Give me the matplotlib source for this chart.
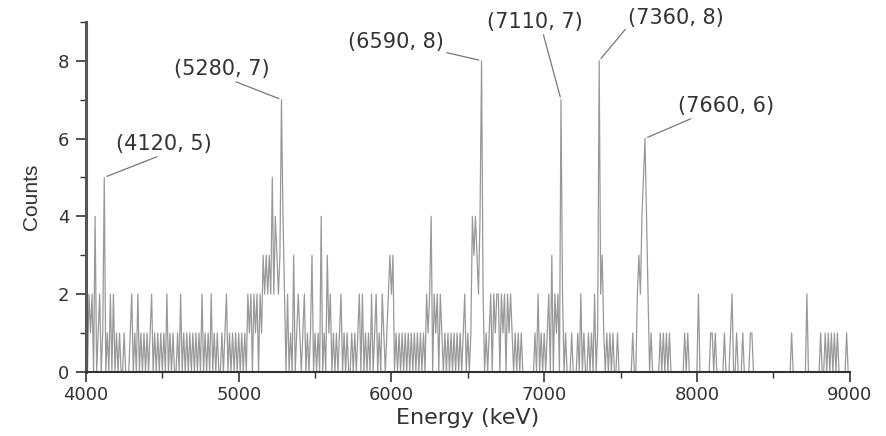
import numpy as np
import matplotlib
matplotlib.use("Agg")
import matplotlib.pyplot as plt
from matplotlib.ticker import MultipleLocator

# counts per 10 keV bin, one row per 100 keV (4000 ... 8990), plus the 9000 bin
counts_rows = [
    [2, 0, 2, 1, 2, 0, 4, 0, 1, 2],  # 4000
    [0, 1, 5, 0, 1, 0, 2, 0, 2, 0],  # 4100
    [1, 0, 1, 0, 0, 1, 0, 0, 0, 1],  # 4200
    [2, 0, 1, 0, 2, 0, 1, 0, 1, 0],  # 4300
    [1, 0, 1, 2, 0, 1, 0, 1, 0, 1],  # 4400
    [0, 1, 0, 2, 0, 1, 0, 1, 0, 0],  # 4500
    [1, 0, 2, 0, 1, 0, 1, 0, 1, 0],  # 4600
    [1, 0, 1, 0, 1, 0, 2, 0, 1, 0],  # 4700
    [1, 0, 2, 0, 1, 0, 1, 0, 0, 1],  # 4800
    [0, 1, 2, 0, 1, 0, 1, 0, 1, 0],  # 4900
    [1, 0, 1, 0, 1, 0, 2, 1, 2, 0],  # 5000
    [2, 1, 2, 0, 2, 1, 3, 2, 3, 2],  # 5100
    [3, 2, 5, 2, 4, 3, 2, 3, 7, 4],  # 5200
    [2, 0, 2, 0, 1, 0, 3, 0, 1, 2],  # 5300
    [1, 0, 1, 2, 0, 1, 0, 1, 3, 0],  # 5400
    [1, 0, 1, 0, 4, 0, 1, 0, 3, 1],  # 5500
    [2, 0, 1, 0, 1, 0, 1, 2, 0, 1],  # 5600
    [0, 1, 0, 0, 1, 0, 1, 0, 1, 2],  # 5700
    [0, 2, 0, 1, 0, 1, 0, 2, 0, 1],  # 5800
    [2, 0, 1, 0, 2, 1, 0, 1, 2, 3],  # 5900
    [2, 3, 0, 1, 0, 1, 0, 1, 0, 1],  # 6000
    [0, 1, 0, 1, 0, 1, 0, 1, 0, 1],  # 6100
    [0, 1, 0, 2, 1, 2, 4, 0, 2, 1],  # 6200
    [2, 0, 2, 1, 0, 1, 0, 1, 0, 1],  # 6300
    [0, 1, 0, 1, 0, 1, 0, 1, 2, 0],  # 6400
    [1, 0, 1, 4, 3, 4, 3, 2, 4, 8],  # 6500
    [2, 0, 1, 0, 1, 2, 0, 2, 1, 2],  # 6600
    [2, 0, 2, 1, 2, 0, 2, 1, 2, 1],  # 6700
    [0, 1, 0, 1, 0, 1, 0, 0, 0, 0],  # 6800
    [0, 0, 0, 0, 1, 0, 2, 0, 1, 0],  # 6900
    [1, 0, 1, 2, 0, 3, 0, 2, 1, 2],  # 7000
    [0, 7, 2, 0, 1, 0, 0, 0, 1, 0],  # 7100
    [0, 0, 1, 0, 2, 0, 1, 0, 0, 1],  # 7200
    [0, 1, 0, 2, 0, 1, 8, 2, 3, 1],  # 7300
    [0, 1, 0, 1, 0, 1, 0, 0, 1, 0],  # 7400
    [0, 0, 0, 0, 0, 0, 0, 0, 1, 0],  # 7500
    [0, 2, 3, 2, 4, 5, 6, 4, 2, 0],  # 7600
    [1, 0, 0, 0, 0, 0, 1, 0, 1, 0],  # 7700
    [1, 0, 1, 0, 0, 0, 0, 0, 0, 0],  # 7800
    [0, 0, 1, 0, 1, 0, 0, 0, 0, 0],  # 7900
    [0, 2, 0, 0, 0, 0, 0, 0, 0, 1],  # 8000
    [1, 0, 1, 0, 0, 0, 0, 0, 1, 0],  # 8100
    [0, 0, 1, 2, 0, 0, 1, 0, 0, 0],  # 8200
    [1, 0, 0, 0, 0, 1, 1, 0, 0, 0],  # 8300
    [0, 0, 0, 0, 0, 0, 0, 0, 0, 0],  # 8400
    [0, 0, 0, 0, 0, 0, 0, 0, 0, 0],  # 8500
    [0, 0, 1, 0, 0, 0, 0, 0, 0, 0],  # 8600
    [0, 0, 2, 0, 0, 0, 0, 0, 0, 0],  # 8700
    [0, 1, 0, 0, 1, 0, 1, 0, 1, 0],  # 8800
    [1, 0, 1, 0, 0, 0, 0, 0, 1, 0],  # 8900
]
last_count = 0
bin_width = 10
start_energy = 4000

counts = np.array([c for row in counts_rows for c in row] + [last_count])
energy = start_energy + bin_width * np.arange(len(counts))

# labelled peaks
peak_energy = [4120, 5280, 6590, 7110, 7360, 7660]
peak_counts = [5, 7, 8, 7, 8, 6]

# label placement: (x, y) in figure pixels, and where on the text the leader starts
label_pos = [(164, 282), (222, 357), (396, 384), (535, 404), (676, 408), (726, 320)]
label_relpos = [(0.5, 0), (0.57, 0), (1.0, 0), (0.58, 0), (0.0, 0.1), (0.2, 0)]

plt.rcParams['font.family'] = ['DejaVu Sans']

fig = plt.figure(figsize=(8.86, 4.36), dpi=100)
ax = fig.add_axes([0.097, 0.147, 0.862, 0.803])

ax.plot(energy, counts, color='#999999', lw=0.9)

for e, c, (px, py), rp in zip(peak_energy, peak_counts, label_pos, label_relpos):
    ax.annotate('(%d, %d)' % (e, c), xy=(e, c), xycoords='data',
                xytext=(px, py), textcoords='figure pixels',
                ha='center', va='bottom', fontsize=15, color='#333333',
                arrowprops=dict(arrowstyle='-', color='#777777', lw=0.9,
                                shrinkA=0, shrinkB=2, relpos=rp))

ax.set_xlim(4000, 9000)
ax.set_ylim(0, 9)
ax.xaxis.set_major_locator(MultipleLocator(1000))
ax.xaxis.set_minor_locator(MultipleLocator(500))
ax.yaxis.set_major_locator(MultipleLocator(2))
ax.yaxis.set_minor_locator(MultipleLocator(1))

for s in ['top', 'right']:
    ax.spines[s].set_visible(False)
ax.spines['left'].set_linewidth(2.2)
ax.spines['bottom'].set_linewidth(1.5)
ax.spines['left'].set_color('#555555')
ax.spines['bottom'].set_color('#333333')

ax.tick_params(axis='both', which='major', length=7, width=1.2, labelsize=13,
               colors='#333333', pad=5)
ax.tick_params(axis='x', which='major', pad=3)
ax.tick_params(axis='both', which='minor', length=4, width=1.0, colors='#333333')

ax.set_xlabel('Energy (keV)', fontsize=16, color='#333333', labelpad=3)
ax.set_ylabel('Counts', fontsize=15, color='#333333', labelpad=12,
              family=['Liberation Sans Narrow', 'Liberation Sans', 'DejaVu Sans'])

fig.savefig('out.png', dpi=100, facecolor='white')
